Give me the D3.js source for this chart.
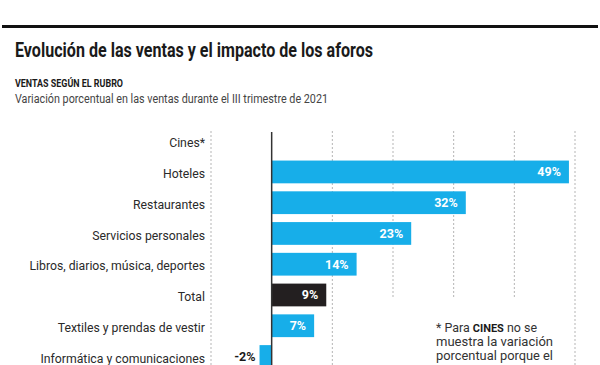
<!DOCTYPE html>
<html><head><meta charset="utf-8">
<script src="https://cdn.jsdelivr.net/npm/d3@7"></script>
<style>
html,body{margin:0;padding:0;background:#fff;}
svg{display:block;font-family:Roboto,"Noto Sans",sans-serif;}
</style></head>
<body>
<svg id="chart" width="600" height="365"></svg>
<script>
const categories = ["Cines*","Hoteles","Restaurantes","Servicios personales","Libros, diarios, música, deportes","Total","Textiles y prendas de vestir","Informática y comunicaciones"];
const values = [null,49,32,23,14,9,7,-2];
const tickValues = [-10,0,10,20,30,40,50];
const title = "Evolución de las ventas y el impacto de los aforos";
const kicker = "VENTAS SEGÚN EL RUBRO";
const subtitle = "Variación porcentual en las ventas durante el III trimestre de 2021";
const noteLines = [["* Para ", "CINES", " no se"], ["muestra la variación"], ["porcentual porque el"]];

const svg = d3.select("#chart");
const blue = "#17aee9", dark = "#231f20";

svg.append("rect").attr("x",2).attr("y",25).attr("width",596).attr("height",3).attr("fill","#111");

function fitText(sel, w){ sel.attr("textLength", w).attr("lengthAdjust","spacingAndGlyphs"); }

svg.append("text").attr("x",15).attr("y",57).attr("font-size",20.5).attr("font-weight",700)
  .attr("fill","#1a1a1a").text(title).call(fitText,358);
svg.append("text").attr("x",15).attr("y",87).attr("font-size",10.5).attr("font-weight",700)
  .attr("fill","#1a1a1a").text(kicker).call(fitText,108);
svg.append("text").attr("x",15).attr("y",102.5).attr("font-size",13.2).attr("fill","#444")
  .text(subtitle).call(fitText,313);

const x = d3.scaleLinear().domain([-10,50]).range([211,575]);
const y = d3.scaleBand().domain(categories).range([125.8,125.8+8*30.76]).paddingInner(0.26).paddingOuter(0.13);

// gridlines
const gridTop = 131;
svg.append("g").selectAll("line").data(tickValues.filter(d=>d!==0)).join("line")
  .attr("x1",d=>x(d)).attr("x2",d=>x(d)).attr("y1",gridTop).attr("y2",365)
  .attr("stroke","#b5b5b5").attr("stroke-width",1).attr("stroke-dasharray","2,2");

// white note box masking gridlines
svg.append("rect").attr("x",x(18)).attr("y",298).attr("width",x(48)-x(18)).attr("height",80).attr("fill","#fff");

// bars
const data = categories.map((c,i)=>({c, v: values[i]}));
const bars = data.filter(d=>d.v!==null);
svg.append("g").selectAll("rect").data(bars).join("rect")
  .attr("x",d=>x(Math.min(0,d.v))).attr("y",d=>y(d.c))
  .attr("width",d=>Math.abs(x(d.v)-x(0))).attr("height",y.bandwidth())
  .attr("fill",d=>d.c==="Total"?dark:blue);

// zero line
svg.append("line").attr("x1",x(0)).attr("x2",x(0)).attr("y1",132).attr("y2",365)
  .attr("stroke","#333").attr("stroke-width",1.5);

// value labels
svg.append("g").selectAll("text").data(bars).join("text")
  .attr("x",d=>d.v>=0? x(d.v)-8 : x(d.v)-4)
  .attr("y",d=>y(d.c)+y.bandwidth()/2).attr("dy","0.36em")
  .attr("text-anchor","end").attr("font-size",12.5).attr("font-weight",700)
  .attr("fill",d=>d.v>=0?"#fff":"#1a1a1a")
  .text(d=>d.v+"%");

// category labels
svg.append("g").selectAll("text").data(categories).join("text")
  .attr("x",205).attr("y",d=>y(d)+y.bandwidth()/2).attr("dy","0.5em")
  .attr("text-anchor","end").attr("font-size",12.5).attr("fill","#2a2a2a").text(d=>d)
  .each(function(){ const w=this.getComputedTextLength(); d3.select(this).call(fitText, w*0.98); });

// note
const noteWidths = [101,117,117];
noteLines.forEach((parts,i)=>{
  const t = svg.append("text").attr("x",436).attr("y",332.3+i*14).attr("font-size",13).attr("fill","#333");
  parts.forEach(p=>{
    const s = t.append("tspan").text(p);
    if(p==="CINES") s.attr("font-weight",700).attr("font-size",11.5).attr("fill","#1a1a1a");
  });
  t.call(fitText, noteWidths[i]);
});
</script>
</body></html>
